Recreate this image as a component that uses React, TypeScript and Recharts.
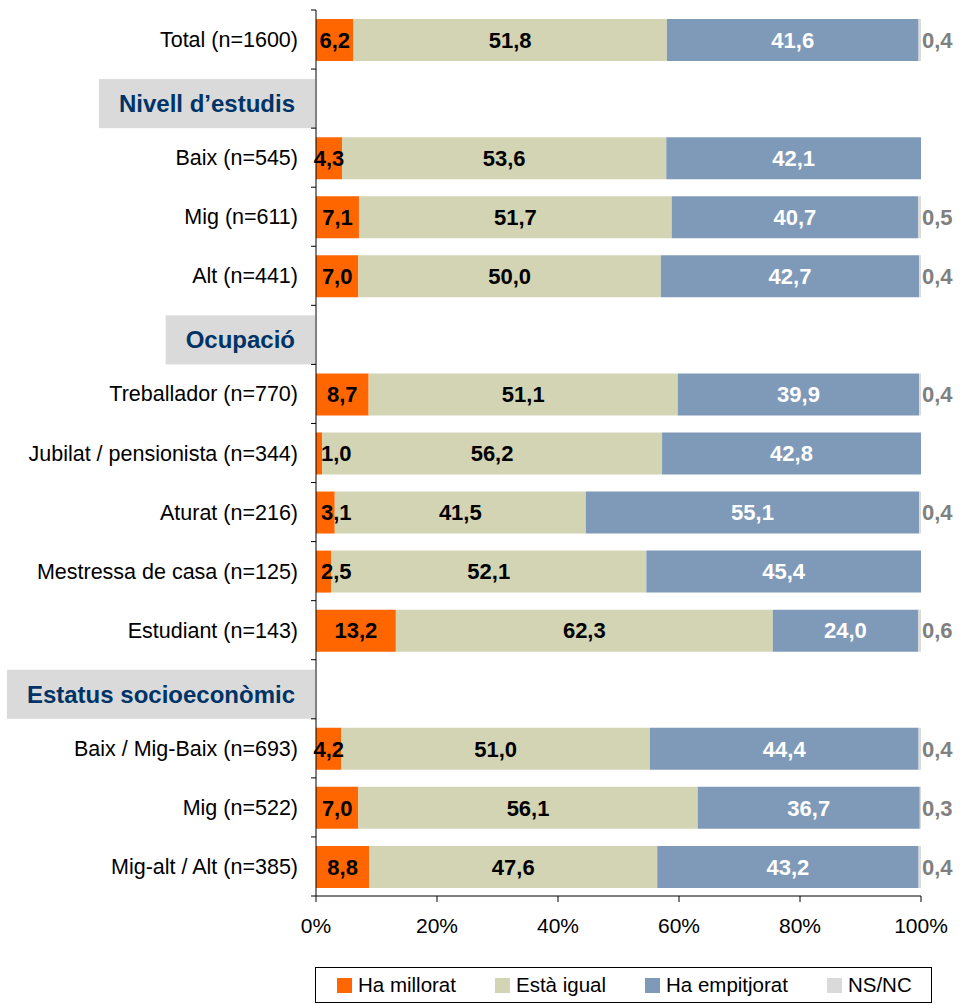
import React from "react";
import { BarChart, Bar, XAxis, YAxis, LabelList } from "recharts";

const categories = [
  "Total (n=1600)",
  "Nivell d’estudis",
  "Baix (n=545)",
  "Mig (n=611)",
  "Alt (n=441)",
  "Ocupació",
  "Treballador (n=770)",
  "Jubilat / pensionista (n=344)",
  "Aturat (n=216)",
  "Mestressa de casa (n=125)",
  "Estudiant (n=143)",
  "Estatus socioeconòmic",
  "Baix / Mig-Baix (n=693)",
  "Mig (n=522)",
  "Mig-alt / Alt (n=385)",
];
const headers = ["Nivell d’estudis", "Ocupació", "Estatus socioeconòmic"];

const millorat = [6.2, null, 4.3, 7.1, 7.0, null, 8.7, 1.0, 3.1, 2.5, 13.2, null, 4.2, 7.0, 8.8];
const igual = [51.8, null, 53.6, 51.7, 50.0, null, 51.1, 56.2, 41.5, 52.1, 62.3, null, 51.0, 56.1, 47.6];
const empitjorat = [41.6, null, 42.1, 40.7, 42.7, null, 39.9, 42.8, 55.1, 45.4, 24.0, null, 44.4, 36.7, 43.2];
const nsnc = [0.4, null, 0, 0.5, 0.4, null, 0.4, 0, 0.4, 0, 0.6, null, 0.4, 0.3, 0.4];

const xTicks = [0, 20, 40, 60, 80, 100];

const seriesNames = ["Ha millorat", "Està igual", "Ha empitjorat", "NS/NC"];
const colors = ["#FF6600", "#D3D4B3", "#7F9AB9", "#DADADA"];

const rows = categories.map((name, i) => ({
  name,
  millorat: millorat[i],
  igual: igual[i],
  empitjorat: empitjorat[i],
  nsnc: nsnc[i],
}));

const FONT = "'Liberation Sans', Arial, sans-serif";
const AXIS_X = 316;
const TOP = 10;
const PLOT_H = 886;
const BAND = PLOT_H / categories.length;

const fmt = (v: number) => v.toFixed(1).replace(".", ",");

let ctx: CanvasRenderingContext2D | null = null;
function textWidth(t: string, font: string) {
  if (!ctx) ctx = document.createElement("canvas").getContext("2d");
  if (!ctx) return t.length * 12;
  ctx.font = font;
  return ctx.measureText(t).width;
}

function CategoryTick(props: any) {
  const { y, payload, index } = props;
  const label = payload.value as string;
  const top = y - BAND / 2;
  const marks = (
    <g>
      <line x1={AXIS_X - 5} x2={AXIS_X} y1={top} y2={top} stroke="#000" />
      {index === categories.length - 1 && (
        <line x1={AXIS_X - 5} x2={AXIS_X} y1={top + BAND} y2={top + BAND} stroke="#000" />
      )}
    </g>
  );
  if (headers.includes(label)) {
    const w = textWidth(label, `bold 24px ${FONT}`) + 40;
    const boxTop = top + 10;
    const boxH = BAND - 10;
    return (
      <g>
        <rect x={AXIS_X - 1 - w} y={boxTop} width={w} height={boxH} fill="#DADADA" />
        <text
          x={AXIS_X - 21}
          y={boxTop + boxH / 2}
          dy="0.35em"
          textAnchor="end"
          fontFamily={FONT}
          fontSize={24}
          fontWeight="bold"
          fill="#003366"
        >
          {label}
        </text>
        {marks}
      </g>
    );
  }
  return (
    <g>
      <text x={AXIS_X - 18} y={y} dy="0.35em" textAnchor="end" fontFamily={FONT} fontSize={21.5} fill="#000">
        {label}
      </text>
      {marks}
    </g>
  );
}

const insideLabel = (color: string) => (props: any) => {
  const { x, y, width, height, value } = props;
  if (value == null || value === 0) return null;
  const small = width < 24;
  return (
    <text
      x={small ? x + 5 : x + width / 2}
      y={y + height / 2}
      dy="0.35em"
      textAnchor={small ? "start" : "middle"}
      fontFamily={FONT}
      fontSize={22}
      fontWeight="bold"
      fill={color}
    >
      {fmt(value)}
    </text>
  );
};

const outsideLabel = (props: any) => {
  const { x, y, width, height, value } = props;
  if (value == null || value === 0) return null;
  return (
    <text
      x={x + width + 1}
      y={y + height / 2}
      dy="0.35em"
      textAnchor="start"
      fontFamily={FONT}
      fontSize={22}
      fontWeight="bold"
      fill="#808080"
    >
      {fmt(value)}
    </text>
  );
};

function LegendBox() {
  return (
    <div
      style={{
        position: "absolute",
        left: 315,
        top: 967,
        width: 617,
        height: 36,
        border: "1px solid #000",
        boxSizing: "border-box",
        display: "flex",
        alignItems: "center",
        paddingLeft: 21,
        gap: 39,
        fontFamily: FONT,
        fontSize: 20.5,
        color: "#000",
      }}
    >
      {seriesNames.map((n, i) => (
        <div key={n} style={{ display: "flex", alignItems: "center" }}>
          <span style={{ display: "inline-block", width: 15, height: 15, background: colors[i], marginRight: 6 }} />
          <span>{n}</span>
        </div>
      ))}
    </div>
  );
}

export default function App() {
  return (
    <div style={{ position: "absolute", left: 0, top: 0, width: 972, height: 1005, background: "#fff" }}>
      <BarChart
        width={972}
        height={960}
        data={rows}
        layout="vertical"
        margin={{ top: TOP, right: 51, bottom: 20, left: 0 }}
        barSize={42}
      >
        <XAxis
          type="number"
          domain={[0, 100]}
          ticks={xTicks}
          allowDataOverflow
          tickFormatter={(v) => `${v}%`}
          axisLine={{ stroke: "#000" }}
          tickLine={{ stroke: "#000" }}
          tickSize={6}
          tickMargin={16}
          height={44}
          tick={{ fill: "#000", fontSize: 21, fontFamily: FONT }}
        />
        <YAxis
          type="category"
          dataKey="name"
          width={AXIS_X}
          interval={0}
          axisLine={{ stroke: "#000" }}
          tickLine={false}
          tick={<CategoryTick />}
        />
        <Bar dataKey="millorat" stackId="a" fill={colors[0]} isAnimationActive={false}>
          <LabelList dataKey="millorat" content={insideLabel("#000")} />
        </Bar>
        <Bar dataKey="igual" stackId="a" fill={colors[1]} isAnimationActive={false}>
          <LabelList dataKey="igual" content={insideLabel("#000")} />
        </Bar>
        <Bar dataKey="empitjorat" stackId="a" fill={colors[2]} isAnimationActive={false}>
          <LabelList dataKey="empitjorat" content={insideLabel("#fff")} />
        </Bar>
        <Bar dataKey="nsnc" stackId="a" fill={colors[3]} isAnimationActive={false}>
          <LabelList dataKey="nsnc" content={outsideLabel} />
        </Bar>
      </BarChart>
      <LegendBox />
    </div>
  );
}
